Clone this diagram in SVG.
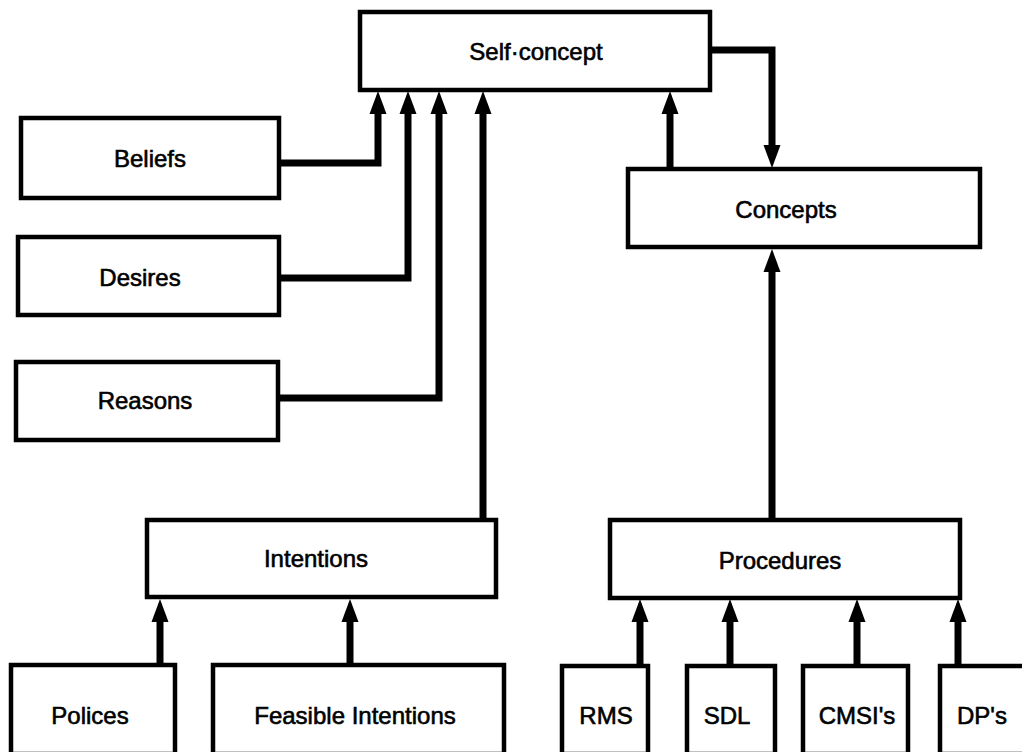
<svg xmlns="http://www.w3.org/2000/svg" width="1022" height="752" viewBox="0 0 1022 752">
<style>
.box{fill:#fff;stroke:#000;stroke-width:4.5}
.lbl{font-family:"Liberation Sans",Arial,sans-serif;font-size:24px;fill:#000;stroke:#000;stroke-width:0.6;text-anchor:middle;dominant-baseline:central}
.con{fill:none;stroke:#000;stroke-width:7;stroke-linejoin:miter}
</style>
<defs>
<marker id="ah" markerUnits="userSpaceOnUse" markerWidth="24" markerHeight="18" refX="0" refY="0" viewBox="0 -9 24 18" orient="auto" overflow="visible">
<path d="M0,-8.5 L23,0 L0,8.5 Z" fill="#000"/>
</marker>
</defs>
<rect width="1022" height="752" fill="#fff"/>
<g id="connectors">
<path class="con" d="M279,163 H378 V114" marker-end="url(#ah)"/>
<path class="con" d="M279,278 H408 V114" marker-end="url(#ah)"/>
<path class="con" d="M279,398 H439 V114" marker-end="url(#ah)"/>
<path class="con" d="M483,520 V114" marker-end="url(#ah)"/>
<path class="con" d="M670,169 V114" marker-end="url(#ah)"/>
<path class="con" d="M710,50 H772 V145" marker-end="url(#ah)"/>
<path class="con" d="M772,520 V272" marker-end="url(#ah)"/>
<path class="con" d="M160,665 V622" marker-end="url(#ah)"/>
<path class="con" d="M350,665 V622" marker-end="url(#ah)"/>
<path class="con" d="M640,666 V622" marker-end="url(#ah)"/>
<path class="con" d="M730,666 V622" marker-end="url(#ah)"/>
<path class="con" d="M857,666 V622" marker-end="url(#ah)"/>
<path class="con" d="M958,666 V622" marker-end="url(#ah)"/>
</g>
<g id="selfconcept"><rect class="box" x="360" y="12" width="350" height="78"/><text class="lbl" x="536" y="51">Self·concept</text></g>
<g id="concepts"><rect class="box" x="628" y="169" width="352" height="78"/><text class="lbl" x="786" y="209">Concepts</text></g>
<g id="beliefs"><rect class="box" x="21" y="118" width="258" height="80"/><text class="lbl" x="150" y="158">Beliefs</text></g>
<g id="desires"><rect class="box" x="18" y="237" width="261" height="78"/><text class="lbl" x="140" y="277">Desires</text></g>
<g id="reasons"><rect class="box" x="16" y="362" width="262" height="78"/><text class="lbl" x="145" y="400">Reasons</text></g>
<g id="intentions"><rect class="box" x="147" y="520" width="349" height="77"/><text class="lbl" x="316" y="558">Intentions</text></g>
<g id="procedures"><rect class="box" x="610" y="520" width="350" height="78"/><text class="lbl" x="780" y="560">Procedures</text></g>
<g id="polices"><rect class="box" x="11" y="665" width="164" height="89"/><text class="lbl" x="90" y="715">Polices</text></g>
<g id="feasible"><rect class="box" x="213" y="665" width="291" height="89"/><text class="lbl" x="355" y="715">Feasible Intentions</text></g>
<g id="rms"><rect class="box" x="562" y="666" width="86" height="88"/><text class="lbl" x="606" y="715">RMS</text></g>
<g id="sdl"><rect class="box" x="687" y="666" width="88" height="88"/><text class="lbl" x="727" y="715">SDL</text></g>
<g id="cmsis"><rect class="box" x="803" y="666" width="105" height="88"/><text class="lbl" x="857" y="715">CMSI's</text></g>
<g id="dps"><rect class="box" x="940" y="666" width="90" height="88"/><text class="lbl" x="982" y="715">DP's</text></g>
</svg>
